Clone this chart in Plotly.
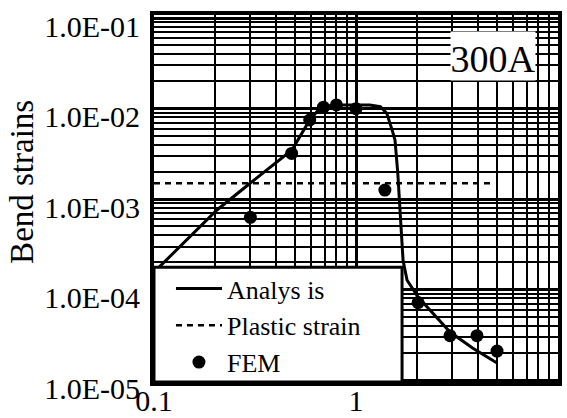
import plotly.graph_objects as go

# ---- data ----
analysis_x = [0.1, 0.205, 0.299, 0.482, 0.59, 0.65, 0.70, 0.80, 1.0, 1.17, 1.32,
              1.42, 1.51, 1.56, 1.61, 1.67, 1.71, 1.79, 2.03, 2.92, 3.79, 4.99]
analysis_y = [1.56e-4, 7.6e-4, 1.5e-3, 3.5e-3, 7.5e-3, 9.6e-3, 1.06e-2, 1.1e-2, 1.1e-2, 1.1e-2, 1.05e-2,
              8.9e-3, 5.8e-3, 4.5e-3, 1.94e-3, 5.9e-4, 2.1e-4, 1.27e-4, 8.3e-5, 3.4e-5, 2.25e-5, 1.55e-5]

plastic_x = [0.1, 4.8]
plastic_y = [1.5e-3, 1.5e-3]

fem_x = [0.30, 0.48, 0.59, 0.69, 0.80, 1.0, 1.39, 2.03, 2.92, 3.97, 4.99]
fem_y = [6.3e-4, 3.2e-3, 7.5e-3, 1.04e-2, 1.1e-2, 1.0e-2, 1.26e-3, 7.2e-5, 3.1e-5, 3.1e-5, 2.1e-5]

x_tickvals = [0.1, 1, 10]
x_ticktext = ["0.1", "1", "10"]
y_tickvals = [1e-5, 1e-4, 1e-3, 1e-2, 1e-1]
y_ticktext = ["1.0E-05", "1.0E-04", "1.0E-03", "1.0E-02", "1.0E-01"]

x_minor = [d * 10.0 ** e for e in (-1, 0) for d in range(2, 10)]
y_minor = [d * 10.0 ** e for e in (-5, -4, -3, -2) for d in range(2, 10)]

FONT = "Liberation Serif"

fig = go.Figure()
fig.add_trace(go.Scatter(x=analysis_x, y=analysis_y, mode="lines", name="Analys is",
                         line=dict(color="black", width=3)))
fig.add_trace(go.Scatter(x=plastic_x, y=plastic_y, mode="lines", name="Plastic strain",
                         line=dict(color="black", width=2.5, dash="6px,5px")))
fig.add_trace(go.Scatter(x=fem_x, y=fem_y, mode="markers", name="FEM",
                         marker=dict(color="black", size=13)))

fig.update_layout(
    width=567, height=418,
    margin=dict(l=154, r=9, t=15, b=36, autoexpand=False),
    paper_bgcolor="white", plot_bgcolor="white",
    font=dict(family=FONT, color="black"),
    showlegend=True,
    legend=dict(x=0.042, y=-0.011, xanchor="left", yanchor="bottom",
                bgcolor="rgba(0,0,0,0)", borderwidth=0,
                font=dict(family=FONT, size=26, color="black"),
                itemwidth=46, tracegroupgap=0),
    shapes=[
        # legend frame
        dict(type="rect", xref="paper", yref="paper", x0=0.0, x1=0.614, y0=0.0, y1=0.313,
             fillcolor="white", line=dict(color="black", width=3), layer="above"),
    ],
    annotations=[
        dict(text="300A", xref="paper", yref="paper", x=0.840, y=0.888,
             xanchor="center", yanchor="middle", showarrow=False,
             width=84, height=48, valign="bottom", align="center",
             bgcolor="white", borderpad=0,
             font=dict(family=FONT, size=38, color="black")),
        dict(text="Bend strains", xref="paper", yref="paper", x=-0.327, y=0.545,
             xanchor="center", yanchor="middle", showarrow=False, textangle=-90,
             font=dict(family=FONT, size=33, color="black")),
    ],
)

fig.update_xaxes(type="log", range=[-1, 1], automargin=False,
                 tickmode="array", tickvals=x_tickvals, ticktext=x_ticktext,
                 tickfont=dict(family=FONT, size=30, color="black"),
                 ticklabelstandoff=-11,
                 showgrid=True, gridcolor="black", gridwidth=3,
                 minor=dict(tickmode="array", tickvals=x_minor, showgrid=True,
                            gridcolor="black", gridwidth=2),
                 showline=True, linecolor="black", linewidth=4, mirror=True,
                 ticks="", zeroline=False)
fig.update_yaxes(type="log", range=[-5.02, -0.965], automargin=False,
                 tickmode="array", tickvals=y_tickvals, ticktext=y_ticktext,
                 tickfont=dict(family=FONT, size=30, color="black"),
                 ticklabelshift=8, ticklabelstandoff=4,
                 showgrid=True, gridcolor="black", gridwidth=3,
                 minor=dict(tickmode="array", tickvals=y_minor, showgrid=True,
                            gridcolor="black", gridwidth=2),
                 showline=True, linecolor="black", linewidth=4, mirror=True,
                 ticks="", zeroline=False)

fig.write_html("out.html", config={"displayModeBar": False},
               post_script="document.body.style.margin='0';")
